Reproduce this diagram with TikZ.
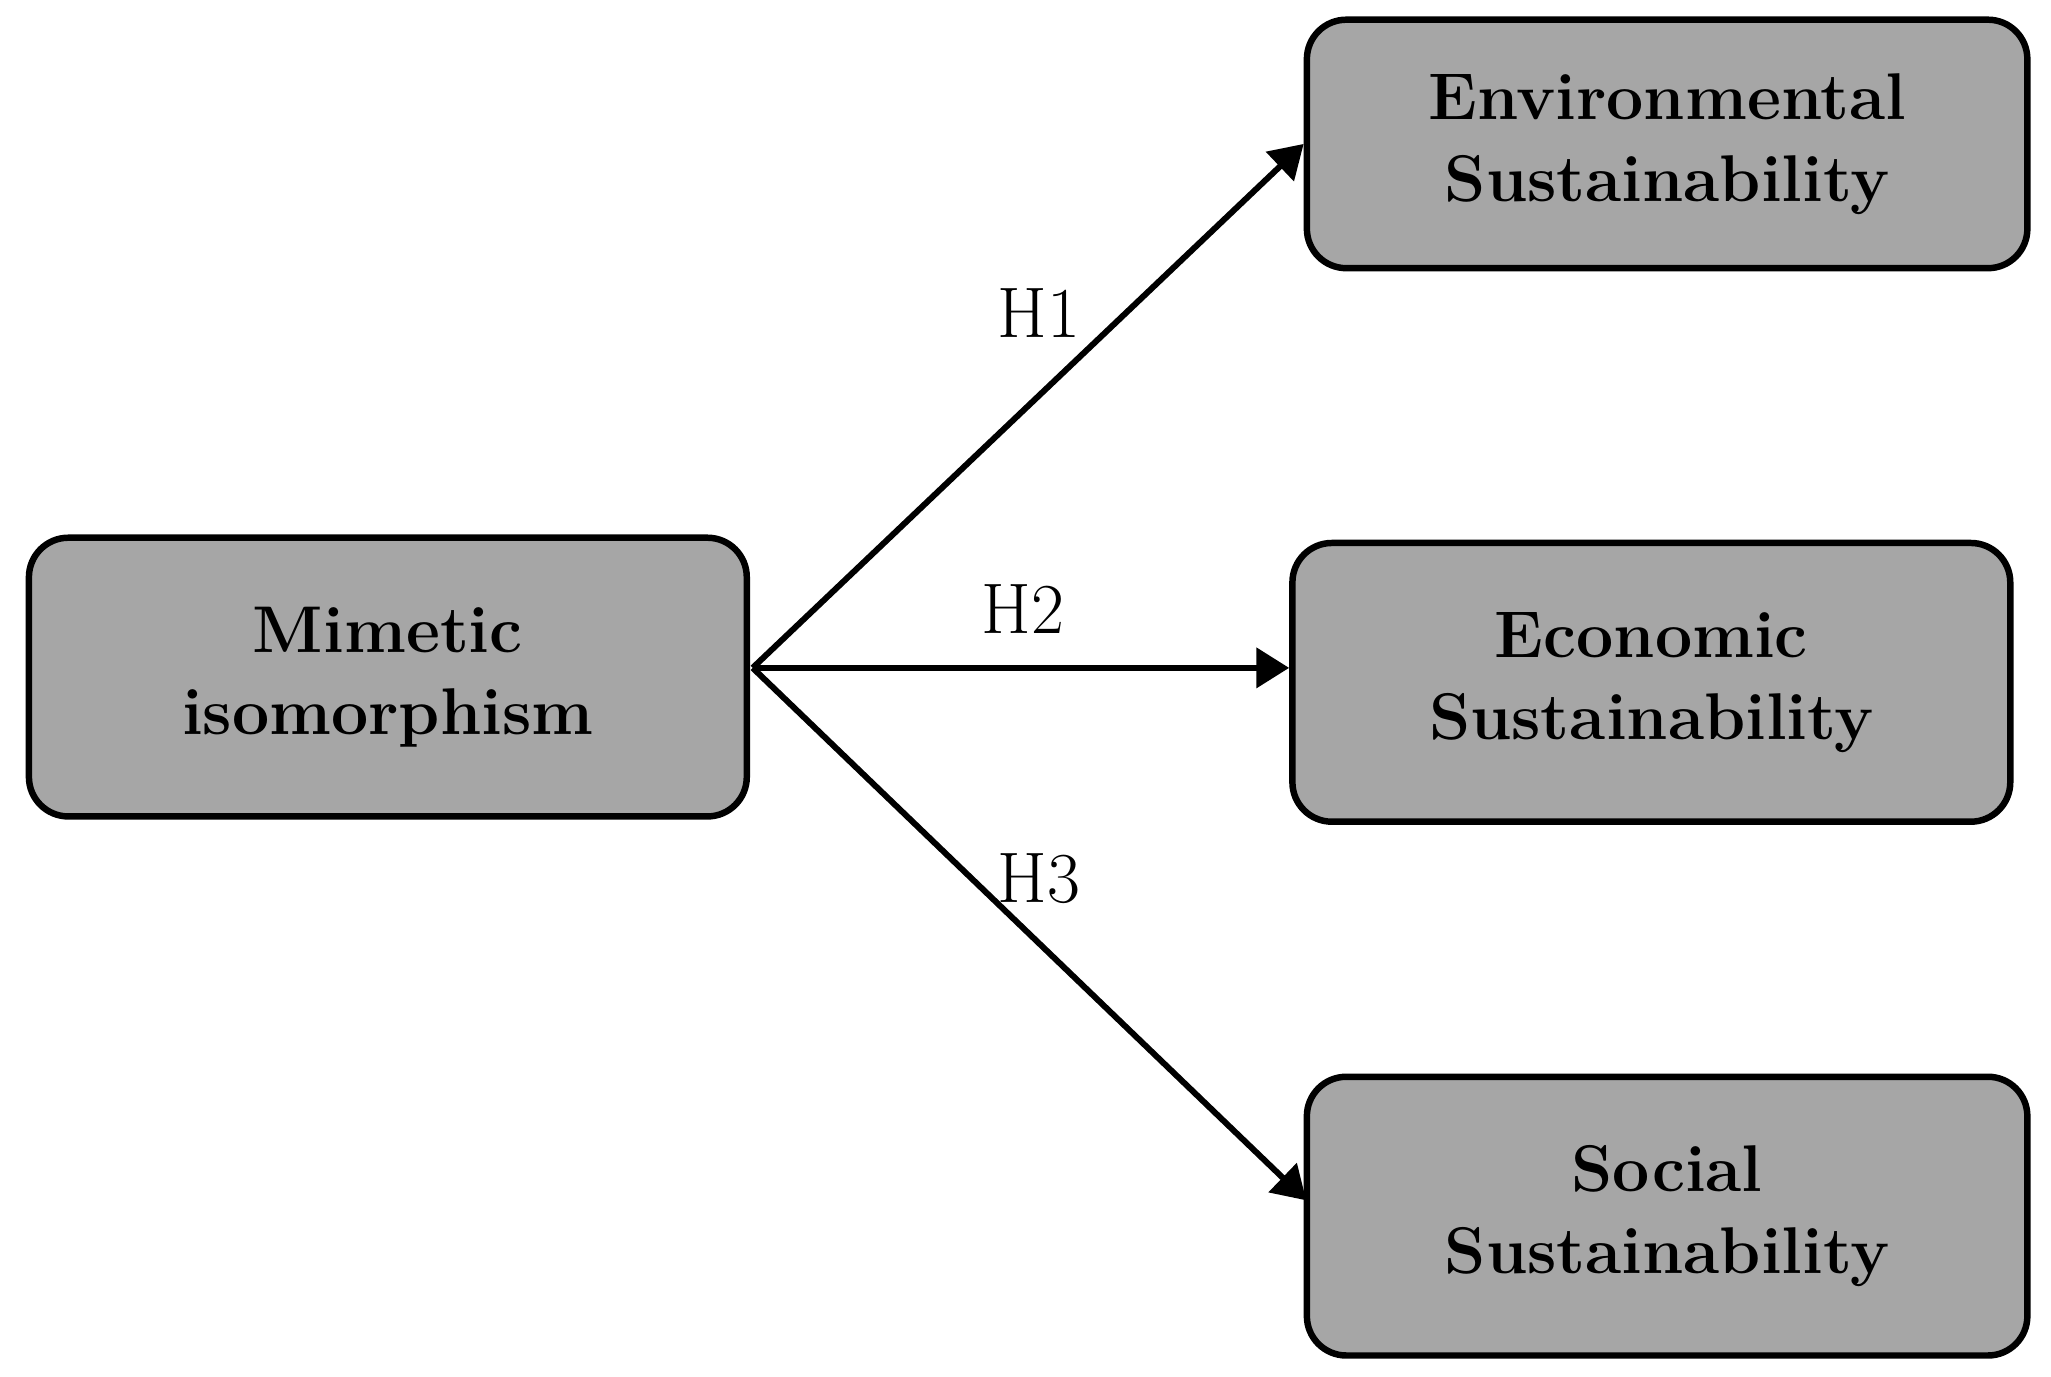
\documentclass[tikz,border=0pt]{standalone}
\usepackage{amsmath}
\usetikzlibrary{arrows.meta,calc,positioning}
\definecolor{boxgray}{RGB}{166,166,166}

\begin{document}
\begin{tikzpicture}[
        blk/.style={draw,line width=1.4pt,fill=boxgray,rounded corners=0.3cm,inner sep=0pt,
            align=center,font=\fontsize{14.3}{17.8}\selectfont\bfseries},
        hyp/.style={inner sep=0pt,font=\fontsize{15.5}{18}\selectfont},
        link/.style={line width=1.3pt,-{Triangle[length=2.5mm,width=3mm]}}]
    \useasboundingbox (0,0) rectangle (15.6,10.473);
    \node[blk,minimum width=5.46cm,minimum height=2.12cm] (mim) at (2.95,5.323) {Mimetic\\isomorphism};
    \node[blk,minimum width=5.48cm,minimum height=1.89cm] (env) at (12.68,9.378) {Environmental\\Sustainability};
    \node[blk,minimum width=5.46cm,minimum height=2.12cm] (eco) at (12.56,5.283) {Economic\\Sustainability};
    \node[blk,minimum width=5.48cm,minimum height=2.12cm] (soc) at (12.68,1.223) {Social\\Sustainability};
    \coordinate (src) at ($(mim.east)+(0.02,0.07)$);
    \draw[link] (src) -- (env.west);
    \draw[link] (src) -- (eco.west |- src);
    \draw[link] (src) -- ($(soc.west)+(0.02,0.12)$);
    \node[hyp] (h1) at (7.90,8.093) {H1};
    \node[hyp] (h2) at (7.78,5.843) {H2};
    \node[hyp] (h3) at (7.90,3.793) {H3};
\end{tikzpicture}
\end{document}
